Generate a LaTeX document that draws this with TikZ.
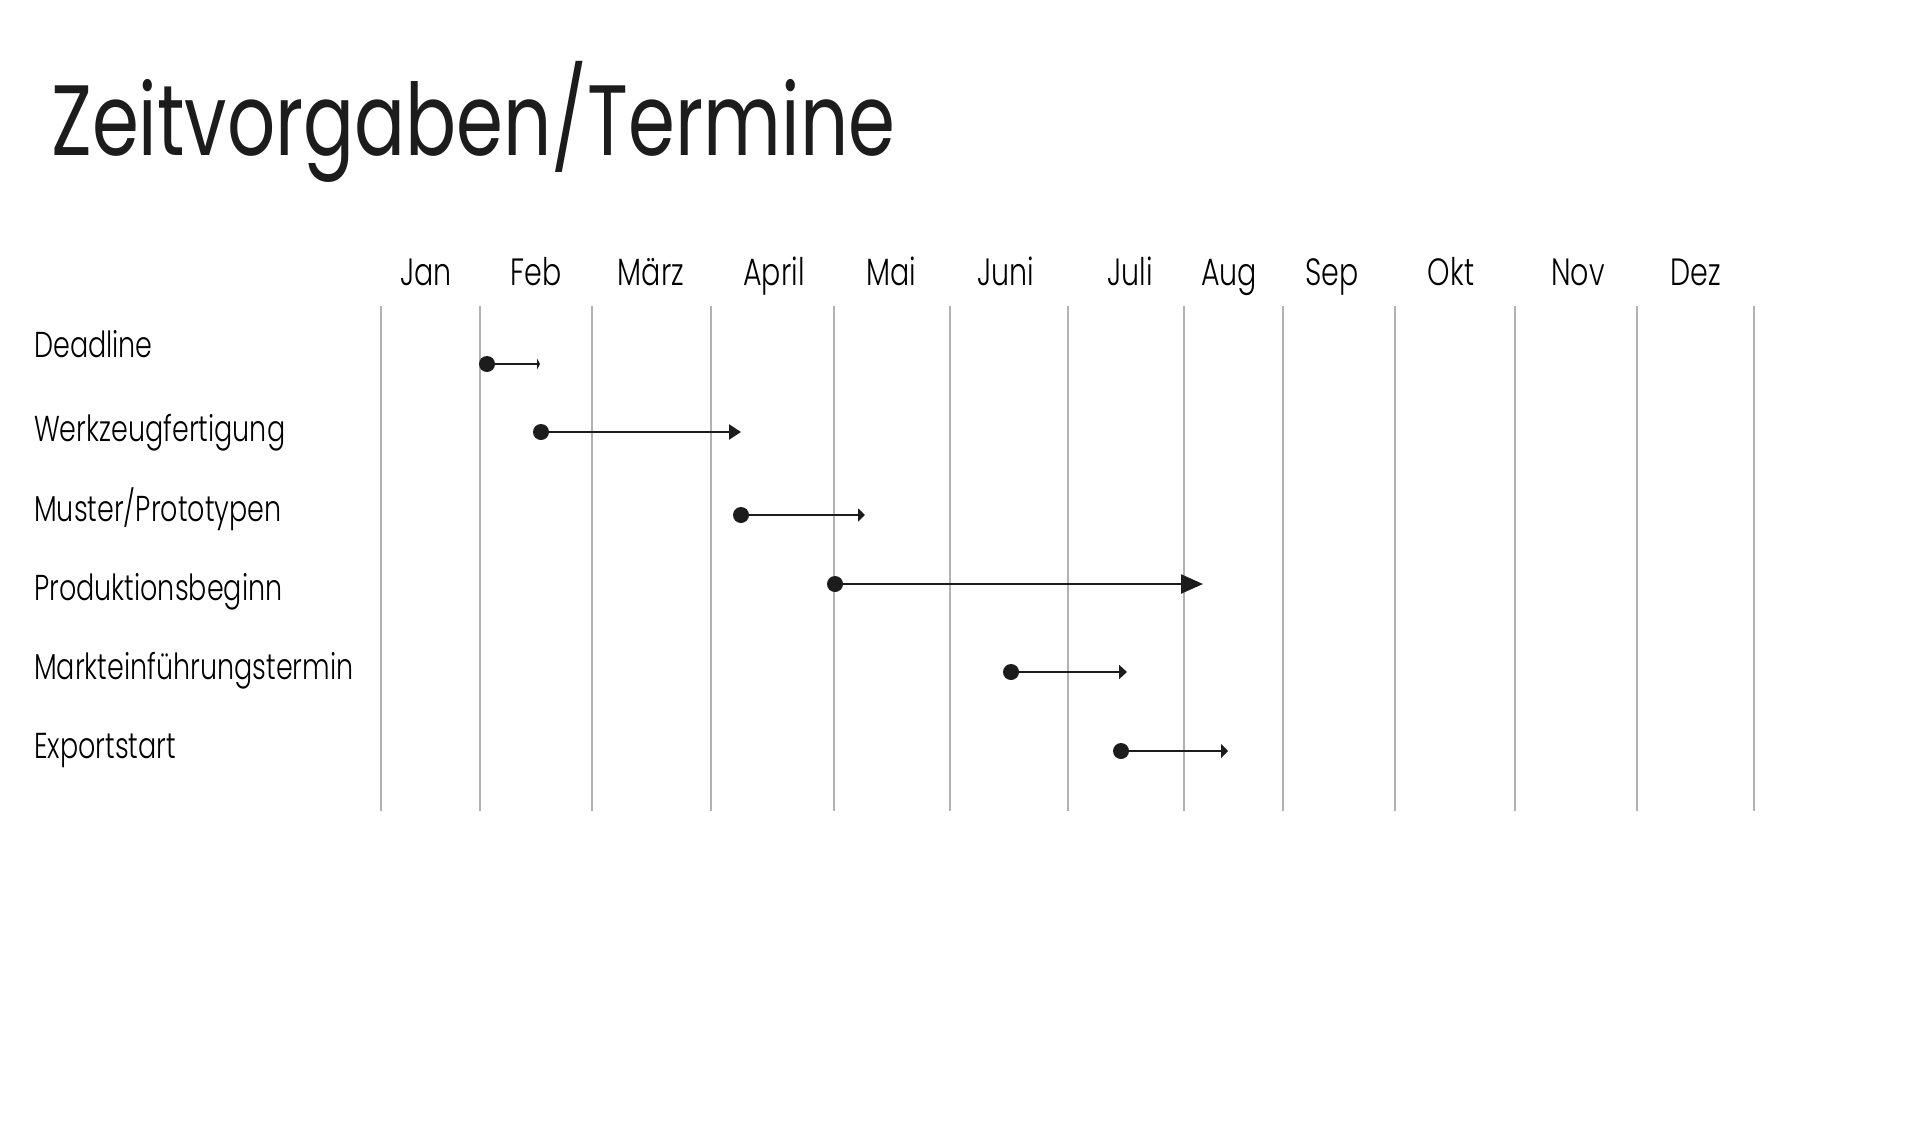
\documentclass[tikz,border=0pt]{standalone}
\usepackage{fontspec}
\newfontfamily\titlefont[FakeStretch=0.755]{Poppins}
\newfontfamily\labelfont[FakeStretch=0.75]{Poppins Light}
\usetikzlibrary{arrows.meta, positioning}
\definecolor{GridGray}{RGB}{178,178,178}
\definecolor{InkBlack}{RGB}{28,28,28}

\begin{document}
\begin{tikzpicture}[x=1pt, y=-1pt,
		gridline/.style={GridGray, line width=1.6pt},
		month/.style={anchor=base, inner sep=0, font=\labelfont\fontsize{38}{38}\selectfont},
		task/.style={anchor=base west, inner sep=0, font=\labelfont\fontsize{36}{36}\selectfont},
		dot/.style={circle, fill=InkBlack, inner sep=0, minimum size=16pt},
		span/.style={InkBlack, line width=2.4pt},
	]
	\useasboundingbox (0,0) rectangle (1920,1120);
	\node[anchor=base west, inner sep=0, InkBlack, font=\titlefont\fontsize{100}{100}\selectfont] (title) at (51,155) {Zeitvorgaben/Termine};
	% month columns
	\foreach \x in {381,480,592,711,834,950,1068,1184,1283,1395,1515,1637,1754}
		\draw[gridline] (\x,306) -- (\x,811);
	\foreach \x/\m [count=\i] in {426/Jan,536/Feb,651/März,774/April,891/Mai,1006/Juni,1130/Juli,1229/Aug,1332/Sep,1451/Okt,1578/Nov,1696/Dez}
		\node[month] (m\i) at (\x,285) {\m};
	% tasks: label, dot at start, arrow to end
	\foreach \t/\ty/\y/\a/\b/\l/\w [count=\i] in {
			Deadline/357/364/487/540/3/11,
			Werkzeugfertigung/441/432/541/741/12/15,
			{Muster/Prototypen}/521/515/741/865/7/13,
			Produktionsbeginn/600/584/835/1203/22/19,
			Markteinführungstermin/679/672/1011/1127/8/14,
			Exportstart/758/751/1121/1228/7/14}
	{
		\node[task] (t\i) at (34,\ty) {\t};
		\node[dot] (d\i) at (\a,\y) {};
		\coordinate (e\i) at (\b,\y);
		\draw[span, -{Triangle[length=\l pt, width=\w pt]}] (d\i) -- (e\i);
	}
\end{tikzpicture}
\end{document}
